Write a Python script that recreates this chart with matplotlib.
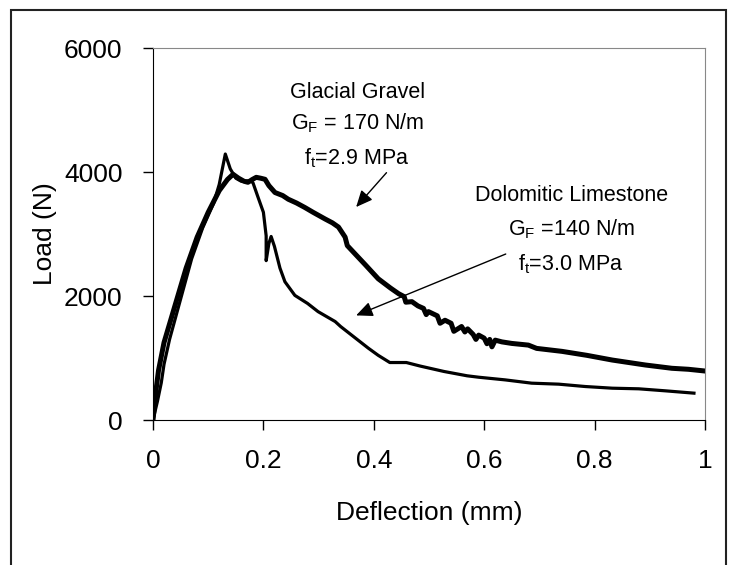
import matplotlib
matplotlib.use('Agg')
import matplotlib.pyplot as plt
from matplotlib.patches import Rectangle

plt.rcParams['font.family'] = ['Liberation Sans', 'DejaVu Sans']
plt.rcParams['mathtext.fontset'] = 'custom'
plt.rcParams['mathtext.rm'] = 'Liberation Sans'
plt.rcParams['mathtext.it'] = 'Liberation Sans'

# Glacial Gravel (thick curve)
gravel_x = [0.0, 0.005, 0.01, 0.02, 0.03, 0.04, 0.06, 0.08, 0.1, 0.12, 0.135, 0.145,
            0.155, 0.165, 0.172, 0.18, 0.187, 0.195, 0.203, 0.21, 0.221, 0.235, 0.245,
            0.26, 0.275, 0.29, 0.312, 0.325, 0.336, 0.348, 0.352, 0.366, 0.385, 0.408,
            0.43, 0.445, 0.455, 0.458, 0.469, 0.48, 0.49, 0.495, 0.499, 0.515, 0.52,
            0.529, 0.54, 0.545, 0.559, 0.565, 0.57, 0.58, 0.585, 0.59, 0.6, 0.605,
            0.61, 0.614, 0.62, 0.632, 0.65, 0.68, 0.695, 0.741, 0.786, 0.832, 0.892,
            0.94, 0.97, 1.0]
gravel_y = [0, 450, 800, 1250, 1550, 1850, 2450, 2950, 3350, 3700, 3880, 3963,
            3900, 3850, 3834, 3880, 3914, 3900, 3882, 3780, 3669, 3620, 3561,
            3500, 3428, 3350, 3241, 3180, 3112, 2950, 2813, 2680, 2500, 2278,
            2130, 2037, 1990, 1900, 1909, 1840, 1800, 1700, 1748, 1680, 1560,
            1609, 1560, 1430, 1508, 1420, 1470, 1380, 1300, 1369, 1320, 1230,
            1300, 1180, 1288, 1260, 1235, 1208, 1155, 1107, 1043, 967, 887,
            834, 818, 790]

# Dolomitic Limestone (thin curve)
dolo_x = [0.0, 0.008, 0.015, 0.02, 0.03, 0.05, 0.07, 0.09, 0.11, 0.12, 0.131,
          0.14, 0.15, 0.16, 0.175, 0.181, 0.19, 0.2, 0.205, 0.205, 0.21, 0.214,
          0.22, 0.23, 0.239, 0.257, 0.28, 0.299, 0.33, 0.34, 0.365, 0.39, 0.408,
          0.429, 0.459, 0.484, 0.527, 0.569, 0.59, 0.638, 0.686, 0.735, 0.783,
          0.832, 0.88, 0.929, 0.98]
dolo_y = [0, 300, 600, 900, 1300, 1950, 2600, 3100, 3500, 3800, 4290,
          4050, 3900, 3850, 3860, 3829, 3600, 3350, 2970, 2570, 2850, 2960,
          2800, 2450, 2230, 2010, 1880, 1748, 1588, 1507, 1333, 1159, 1043,
          927, 927, 870, 783, 713, 690, 647, 594, 578, 540,
          513, 503, 470, 433]

fig = plt.figure(figsize=(7.33, 5.65), dpi=100)
ax = fig.add_axes([153 / 733, 1 - 420 / 565, 552 / 733, 372 / 565])

ax.plot(gravel_x, gravel_y, color='black', lw=3.6, solid_joinstyle='round')
ax.plot(dolo_x, dolo_y, color='black', lw=2.3, solid_joinstyle='round')

ax.set_xlim(0, 1)
ax.set_ylim(0, 6000)
ax.set_xticks([0, 0.2, 0.4, 0.6, 0.8, 1])
ax.set_xticklabels(['0', '0.2', '0.4', '0.6', '0.8', '1'])
ax.set_yticks([0, 2000, 4000, 6000])
ax.tick_params(direction='out', length=7, width=1, labelsize=19)
ax.tick_params(axis='x', pad=14)
ax.tick_params(axis='y', pad=15)
for side in ['top', 'right']:
    ax.spines[side].set_color('#888888')
for side in ['left', 'bottom']:
    ax.spines[side].set_color('black')
ax.set_xlabel('Deflection (mm)', fontsize=19, labelpad=20)
ax.set_ylabel('Load (N)', fontsize=19, labelpad=5)

fs = 15.5
ax.text(0.37, 5290, 'Glacial Gravel', ha='center', va='center', fontsize=fs)
ax.text(0.37, 4790, r'G$_\mathrm{F}$ = 170 N/m', ha='center', va='center', fontsize=fs)
ax.text(0.37, 4226, r'f$_\mathrm{t}$=2.9 MPa', ha='center', va='center', fontsize=fs)
ax.text(0.759, 3613, 'Dolomitic Limestone', ha='center', va='center', fontsize=fs)
ax.text(0.759, 3081, r'G$_\mathrm{F}$ =140 N/m', ha='center', va='center', fontsize=fs)
ax.text(0.756, 2516, r'f$_\mathrm{t}$=3.0 MPa', ha='center', va='center', fontsize=fs)

arrow = dict(arrowstyle='-|>,head_length=1.0,head_width=0.45', color='black', lw=1.0,
             shrinkA=0, shrinkB=0)
ax.annotate('', xy=(0.368, 3435), xytext=(0.423, 3989), arrowprops=arrow)
ax.annotate('', xy=(0.368, 1687), xytext=(0.639, 2677), arrowprops=arrow)

# outer frame
fig.patches.append(Rectangle((10.5 / 733, -0.05), 715 / 733, 1.05 - 9.5 / 565,
                             transform=fig.transFigure, fill=False,
                             edgecolor='#222222', lw=1.5))

fig.savefig('out.png', dpi=100)
